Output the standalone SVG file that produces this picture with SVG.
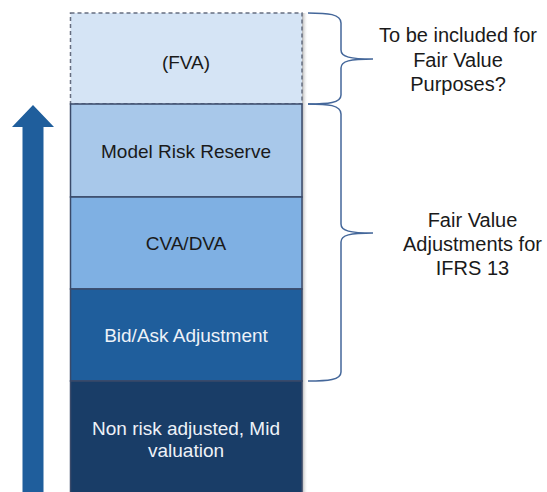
<svg xmlns="http://www.w3.org/2000/svg" width="547" height="492" viewBox="0 0 547 492">
<defs>
<linearGradient id="shadow" x1="0" y1="0" x2="1" y2="0">
<stop offset="0" stop-color="#8a8a8a" stop-opacity="0.7"/>
<stop offset="1" stop-color="#ffffff" stop-opacity="0"/>
</linearGradient>
<style>
.box{stroke:#3a4a6a;stroke-width:1.5}
.dark{font-family:"Liberation Sans",Arial,sans-serif;font-size:19px;fill:#1a1a1a;text-anchor:middle}
.light{font-family:"Liberation Sans",Arial,sans-serif;font-size:19px;fill:#eef2f8;text-anchor:middle}
.lbl{font-family:"Liberation Sans",Arial,sans-serif;font-size:20px;fill:#1a1a1a;text-anchor:middle}
.brace{fill:none;stroke:#44679a;stroke-width:1.5}
</style>
</defs>
<rect width="547" height="492" fill="#ffffff"/>
<rect x="302" y="13" width="6" height="479" fill="url(#shadow)"/>
<g id="arrow">
<polygon points="33,105 54,127 43.5,127 43.5,492 22.5,492 22.5,127 12,127" fill="#1f5e9c"/>
</g>
<g id="fva">
<rect x="70.5" y="13" width="231.5" height="91" fill="#d5e4f5" stroke="#666d80" stroke-width="1.5" stroke-dasharray="4,3"/>
<text class="dark" x="186" y="69">(FVA)</text>
</g>
<g id="model-risk">
<rect class="box" x="70.5" y="104" width="231.5" height="93" fill="#a8c8ea"/>
<text class="dark" x="186" y="158">Model Risk Reserve</text>
</g>
<g id="cva-dva">
<rect class="box" x="70.5" y="197" width="231.5" height="92" fill="#7fb0e3"/>
<text class="dark" x="186" y="250">CVA/DVA</text>
</g>
<g id="bid-ask">
<rect class="box" x="70.5" y="289" width="231.5" height="92" fill="#1f5e9c"/>
<text class="light" x="186" y="342">Bid/Ask Adjustment</text>
</g>
<g id="mid">
<rect class="box" x="70.5" y="381" width="231.5" height="115" fill="#193d67"/>
<text class="light" x="186" y="435">Non risk adjusted, Mid</text>
<text class="light" x="186" y="457">valuation</text>
</g>
<g id="connectors">
<path class="brace" d="M308 13 C328 13 341 14 341 23 L341 50 C341 57 350 59 373 59 C350 59 341 61 341 68 L341 95 C341 103 328 104 308 104"/>
<path class="brace" d="M308 104 C328 104 341 105 341 114 L341 224 C341 231 350 233 373 233 C350 233 341 235 341 242 L341 372 C341 380 328 381 308 381"/>
</g>
<g id="label-top">
<text class="lbl" x="458" y="42">To be included for</text>
<text class="lbl" x="458" y="67">Fair Value</text>
<text class="lbl" x="458" y="91">Purposes?</text>
</g>
<g id="label-ifrs">
<text class="lbl" x="472.5" y="227">Fair Value</text>
<text class="lbl" x="472.5" y="251">Adjustments for</text>
<text class="lbl" x="472.5" y="275">IFRS 13</text>
</g>
</svg>
